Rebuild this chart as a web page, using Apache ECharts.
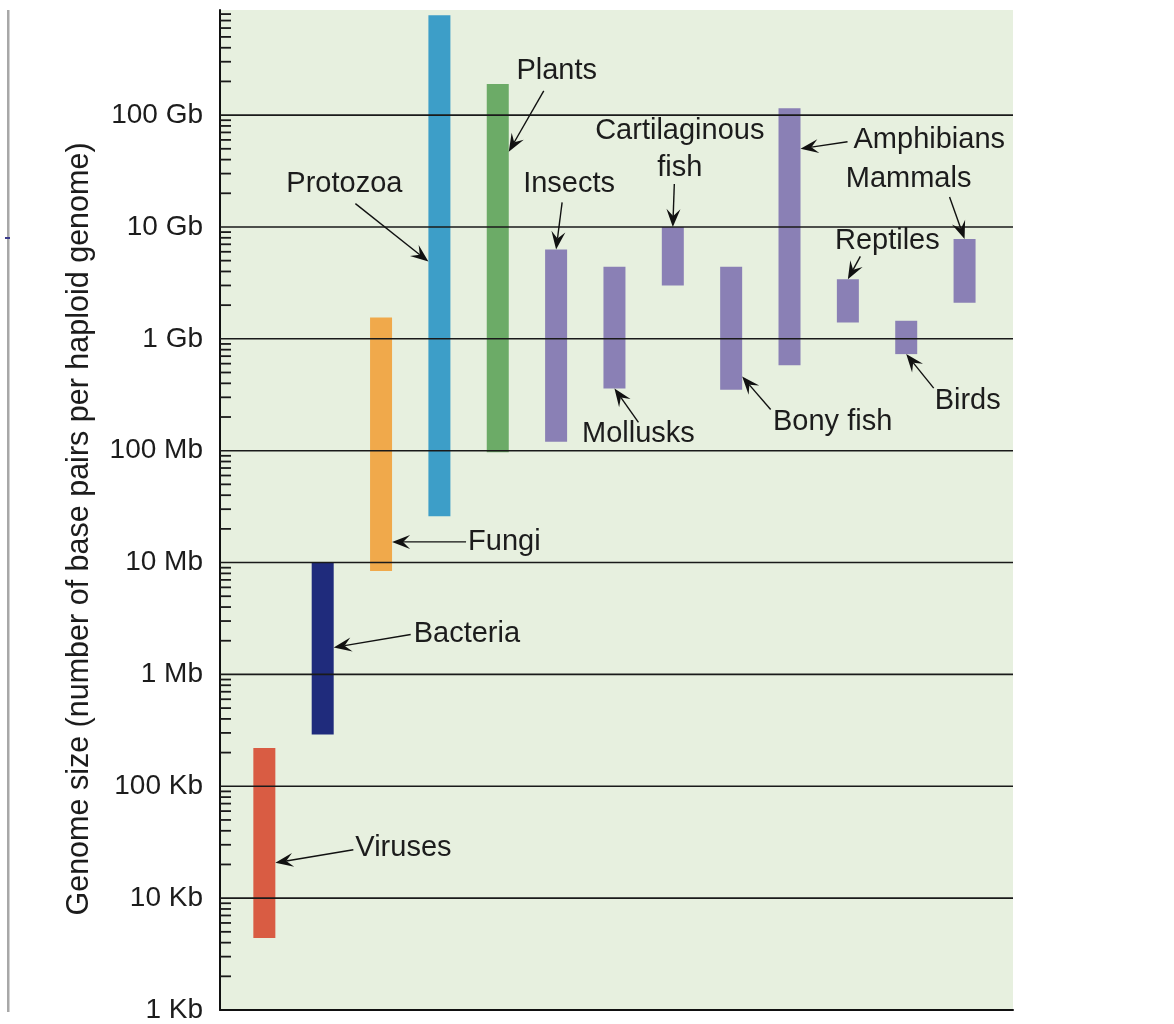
<!DOCTYPE html>
<html><head><meta charset="utf-8">
<script src="https://cdn.jsdelivr.net/npm/echarts@6/dist/echarts.min.js"></script>
<style>html,body{margin:0;padding:0;background:#fff}#c{width:1174px;height:1024px}</style>
</head><body><div id="c"></div>
<script>
// ---------- data ----------
const categories = ['Viruses','Bacteria','Fungi','Protozoa','Plants','Insects','Mollusks','Cartilaginous fish','Bony fish','Amphibians','Reptiles','Birds','Mammals'];
const lowValues  = [4.4e3, 2.9e5, 8.4e6, 2.6e7, 9.7e7, 1.2e8, 3.6e8, 3.0e9, 3.5e8, 5.8e8, 1.4e9, 7.3e8, 2.1e9];
const highValues = [2.2e5, 1.0e7, 1.55e9, 7.8e11, 1.9e11, 6.3e9, 4.4e9, 1.0e10, 4.4e9, 1.15e11, 3.4e9, 1.45e9, 7.8e9];
const arrowTipValues = [2.07e4, 1.74e6, 1.53e7, 4.9e9, 4.7e10, null, null, null, 4.6e8, 5.0e10, null, null, null];
const tickLabels = ['1 Kb','10 Kb','100 Kb','1 Mb','10 Mb','100 Mb','1 Gb','10 Gb','100 Gb'];
const majorTickValues = [1e3,1e4,1e5,1e6,1e7,1e8,1e9,1e10,1e11];
const minorMultipliers = [2,3,4,5,6,7,8,9];
const axisMinValue = 1e3;
const axisMaxValue = 8.7e11;
const axisTitle = 'Genome size (number of base pairs per haploid genome)';

// ---------- style / layout ----------
const FONT = '"Liberation Sans", Arial, Helvetica, sans-serif';
const TEXT_COLOR = '#1c1c1c';
const barColors = ['#d95c43','#1f2b7c','#f0a94b','#3d9ec8','#6cab67','#8a80b5','#8a80b5','#8a80b5','#8a80b5','#8a80b5','#8a80b5','#8a80b5','#8a80b5'];
const BAR_WIDTH = 22;
const annotationLayout = [
  {side:'right',  tail:[78,-13],  label:[80,-15],  align:'left'},
  {side:'right',  tail:[77,-13],  label:[80,-14],  align:'left'},
  {side:'right',  tail:[74,0],    label:[76,0],    align:'left'},
  {side:'left',   tail:[-73,-58], label:[-84,-78], align:'center'},
  {side:'right',  tail:[35,-61],  label:[48,-81],  align:'center'},
  {side:'top',    tail:[6,-47],   label:[13,-65],  align:'center'},
  {side:'bottom', tail:[24,34],   label:[24,46],   align:'center'},
  {side:'top',    tail:[1.5,-43], label:[7,-77],   align:'center', text:'Cartilaginous\nfish'},
  {side:'right',  tail:[28.5,33], label:[90.5,45], align:'center'},
  {side:'right',  tail:[47,-7],   label:[53,-9],   align:'left'},
  {side:'top',    tail:[12.5,-23],label:[39.5,-38],align:'center'},
  {side:'bottom', tail:[27.5,34], label:[61.5,47], align:'center'},
  {side:'top',    tail:[-15,-42], label:[-56,-60], align:'center'}
];

const minorTickValues = [];
majorTickValues.forEach(m => minorMultipliers.forEach(k => { if (m*k < axisMaxValue) minorTickValues.push(m*k); }));

const chart = echarts.init(document.getElementById('c'), null, {renderer:'canvas'});

function labelFor(v) {
  const e = Math.log10(v);
  const r = Math.round(e);
  if (Math.abs(e - r) > 1e-6) return '';
  return tickLabels[r - 3] || '';
}

function arrowHead(tx, ty, fx, fy) {
  const ang = Math.atan2(ty - fy, tx - fx);
  const L = 18, W = 7, N = 11;
  const cos = Math.cos(ang), sin = Math.sin(ang);
  const p = (a, b) => [tx - a*cos + b*sin, ty - a*sin - b*cos];
  return [[tx, ty], p(L, W), p(N, 0), p(L, -W)];
}

chart.setOption({
  animation: false,
  backgroundColor: '#ffffff',
  grid: {left: 220, right: 161, top: 10, bottom: 13, show: true, backgroundColor: '#e7f0df', borderWidth: 0},
  xAxis: {
    type: 'value', min: -0.76, max: 12.83,
    axisLine: {show: true, onZero: false, lineStyle: {color: '#111', width: 2}},
    axisTick: {show: false}, axisLabel: {show: false}, splitLine: {show: false}
  },
  yAxis: {
    type: 'log', logBase: 10, min: axisMinValue, max: axisMaxValue,
    axisLine: {show: true, onZero: false, lineStyle: {color: '#111', width: 2}},
    axisTick: {show: false},
    splitLine: {show: false},
    axisLabel: {formatter: labelFor, fontSize: 28, fontFamily: FONT, color: TEXT_COLOR, margin: 17, showMaxLabel: false}
  },
  graphic: [
    {type:'rect', shape:{x:7, y:10, width:2.5, height:1002}, style:{fill:'#a8a8a8'}},
    {type:'rect', shape:{x:5, y:237, width:5, height:2}, style:{fill:'#3b3b8c'}},
    {type:'text', x: 80, y: 529, rotation: Math.PI/2,
     style:{text: axisTitle, font: '30.5px ' + FONT, fill: TEXT_COLOR, align:'center', verticalAlign:'middle'}}
  ],
  series: [
    {
      type: 'custom', name: 'ranges', z: 2, silent: true,
      data: categories.map((c, i) => [i, lowValues[i], highValues[i]]),
      encode: {x: 0, y: [1, 2]},
      renderItem: function (params, api) {
        const i = api.value(0);
        const top = api.coord([i, api.value(2)]);
        const bot = api.coord([i, api.value(1)]);
        return {type: 'rect', shape: {x: top[0] - BAR_WIDTH/2, y: top[1], width: BAR_WIDTH, height: bot[1] - top[1]},
                style: {fill: barColors[i]}};
      }
    },
    {
      type: 'custom', name: 'grid', z: 3, silent: true, clip: false,
      data: majorTickValues.slice(1).map(v => [0, v]),
      encode: {x: 0, y: 1},
      renderItem: function (params, api) {
        const y = api.coord([0, api.value(1)])[1];
        const cs = params.coordSys;
        return {type: 'line', shape: {x1: cs.x, y1: y, x2: cs.x + cs.width, y2: y}, style: {stroke: '#1a1a1a', lineWidth: 1.6}};
      }
    },
    {
      type: 'custom', name: 'minorTicks', z: 3, silent: true, clip: false,
      data: minorTickValues.map(v => [0, v]),
      encode: {x: 0, y: 1},
      renderItem: function (params, api) {
        const y = api.coord([0, api.value(1)])[1];
        const cs = params.coordSys;
        return {type: 'line', shape: {x1: cs.x, y1: y, x2: cs.x + 11, y2: y}, style: {stroke: '#1a1a1a', lineWidth: 1.8}};
      }
    },
    {
      type: 'custom', name: 'annotations', z: 4, silent: true, clip: false,
      data: categories.map((c, i) => [i, lowValues[i], highValues[i], arrowTipValues[i] == null ? highValues[i] : arrowTipValues[i]]),
      encode: {x: 0, y: [1, 2]},
      renderItem: function (params, api) {
        const i = api.value(0);
        const L = annotationLayout[i];
        let tip;
        if (L.side === 'top') tip = api.coord([i, api.value(2)]);
        else if (L.side === 'bottom') tip = api.coord([i, api.value(1)]);
        else {
          tip = api.coord([i, api.value(3)]);
          tip[0] += (L.side === 'right' ? 1 : -1) * BAR_WIDTH/2;
        }
        const fx = tip[0] + L.tail[0], fy = tip[1] + L.tail[1];
        const head = arrowHead(tip[0], tip[1], fx, fy);
        return {type: 'group', children: [
          {type: 'line', shape: {x1: fx, y1: fy, x2: head[2][0], y2: head[2][1]}, style: {stroke: '#111', lineWidth: 1.4}},
          {type: 'polygon', shape: {points: head}, style: {fill: '#111'}},
          {type: 'text', style: {text: L.text || categories[i], x: tip[0] + L.label[0], y: tip[1] + L.label[1],
            font: '29px ' + FONT, fill: TEXT_COLOR, align: L.align, verticalAlign: 'middle', lineHeight: 37}}
        ]};
      }
    }
  ]
});
</script></body></html>
